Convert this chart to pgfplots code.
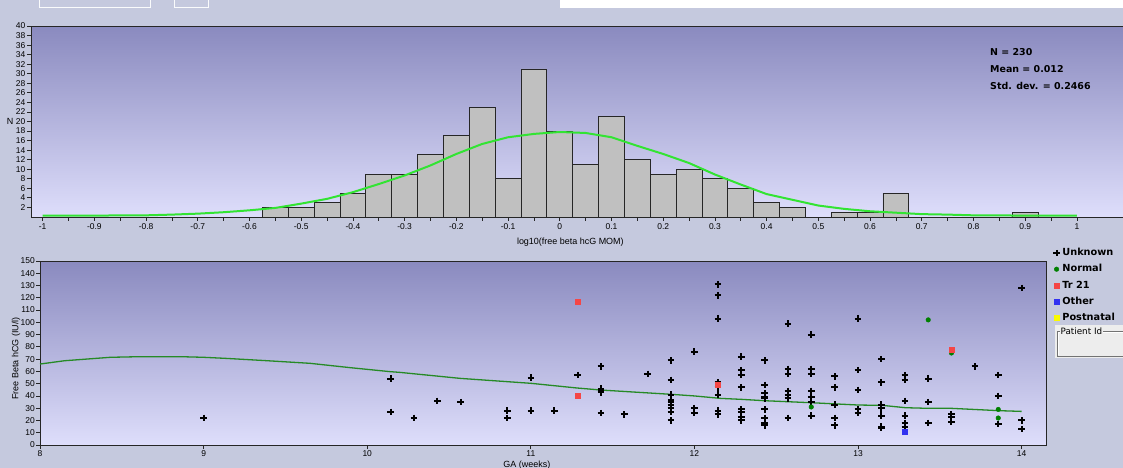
\documentclass[border=0pt]{standalone}
\usepackage{fontspec}
\setmainfont{Liberation Sans}
\newfontfamily\dvs{DejaVu Sans}
\usepackage{pgfplots}
\pgfplotsset{compat=1.18}
\definecolor{panelbg}{RGB}{197,201,222}
\definecolor{plottop}{RGB}{138,138,191}
\definecolor{plotbot}{RGB}{222,222,251}
\definecolor{barfill}{RGB}{192,192,192}
\definecolor{curvegreen}{RGB}{50,228,50}
\definecolor{linegreen}{RGB}{38,138,38}
\definecolor{normalgreen}{RGB}{0,128,0}
\definecolor{trred}{RGB}{245,70,70}
\definecolor{otherblue}{RGB}{50,50,240}
\definecolor{pnyellow}{RGB}{250,250,0}
\begin{document}
\begin{tikzpicture}
\useasboundingbox (0,0) rectangle (1123bp,-468bp);
\fill[panelbg] (0,0) rectangle (1123bp,-468bp);
\begin{scope}[x=1bp,y=-1bp]
\fill[white] (560,0) rectangle (1123,8);
\draw[white!92!panelbg, line width=1bp] (39,-3) rectangle (150,7.5);
\draw[white!92!panelbg, line width=1bp] (174,-3) rectangle (208,7.5);
\end{scope}

% ---------------- histogram ----------------
\begin{axis}[
  at={(31bp,-26bp)}, anchor=north west,
  scale only axis, width=1094bp, height=191bp,
  xmin=-1.0225, xmax=1.093, ymin=0, ymax=40,
  axis background/.style={shade, top color=plottop, bottom color=plotbot},
  axis line style={black!85, line width=0.8bp},
  xtick={-1,-0.9,-0.8,-0.7,-0.6,-0.5,-0.4,-0.3,-0.2,-0.1,0,0.1,0.2,0.3,0.4,0.5,0.6,0.7,0.8,0.9,1},
  xticklabels={-1,-0.9,-0.8,-0.7,-0.6,-0.5,-0.4,-0.3,-0.2,-0.1,0,0.1,0.2,0.3,0.4,0.5,0.6,0.7,0.8,0.9,1},
  minor xtick={-0.95,-0.85,-0.75,-0.65,-0.55,-0.45,-0.35,-0.25,-0.15,-0.05,0.05,0.15,0.25,0.35,0.45,0.55,0.65,0.75,0.85,0.95},
  ytick={2,4,...,40},
  tick align=outside, xtick pos=left, ytick pos=left,
  major tick length=4bp, minor tick length=4bp,
  every tick/.style={black!85, line width=0.8bp},
  every minor tick/.style={black!85, line width=0.8bp},
  ticklabel style={font=\fontsize{8.5}{9}\selectfont, inner sep=1.5bp},
  xticklabel style={yshift=-1bp},
  /pgf/number format/assume math mode=true,
  xlabel={log10(free beta hcG MOM)},
  xlabel style={at={(axis description cs:0.493,-0.133)}, anchor=center, font=\fontsize{9}{10}\selectfont},
  ylabel={N},
  ylabel style={at={(axis description cs:-0.019,0.5)}, anchor=center, rotate=-90, font=\fontsize{9}{10}\selectfont},
]
\addplot[ybar, bar width=0.05, bar shift=0pt, fill=barfill, draw=black!85, line width=0.9bp] coordinates {
(-0.55,2) (-0.50,2) (-0.45,3) (-0.40,5) (-0.35,9) (-0.30,9) (-0.25,13) (-0.20,17)
(-0.15,23) (-0.10,8) (-0.05,31) (0.00,18) (0.05,11) (0.10,21) (0.15,12) (0.20,9)
(0.25,10) (0.30,8) (0.35,6) (0.40,3) (0.45,2) (0.55,1) (0.60,1) (0.65,5) (0.90,1)
};
\addplot[curvegreen, line width=2bp] coordinates {
(-1.00,0.3) (-0.90,0.3) (-0.80,0.35) (-0.75,0.5) (-0.70,0.7) (-0.65,1.0) (-0.60,1.4)
(-0.55,1.9) (-0.50,2.8) (-0.45,3.8) (-0.40,5.2) (-0.35,6.9) (-0.30,8.7) (-0.25,10.8)
(-0.20,13.2) (-0.15,15.3) (-0.10,16.7) (-0.05,17.4) (0.00,17.8) (0.05,17.6) (0.10,16.7)
(0.15,14.9) (0.20,13.2) (0.25,11.3) (0.30,8.9) (0.35,6.8) (0.40,4.8) (0.45,3.6)
(0.50,2.4) (0.55,1.7) (0.60,1.2) (0.65,0.9) (0.70,0.6) (0.75,0.5) (0.80,0.35)
(0.90,0.3) (1.00,0.3)
};
\end{axis}

\begin{scope}[x=1bp,y=-1bp]
\node[anchor=west, font=\dvs\bfseries\fontsize{9.5}{10}\selectfont, inner sep=0pt] at (990,52) {N = 230};
\node[anchor=west, font=\dvs\bfseries\fontsize{9.5}{10}\selectfont, inner sep=0pt] at (990,69) {Mean = 0.012};
\node[anchor=west, font=\dvs\bfseries\fontsize{9.5}{10}\selectfont, inner sep=0pt] at (990,86) {Std. dev. = 0.2466};
\end{scope}

% ---------------- scatter ----------------
\begin{axis}[
  at={(40bp,-261bp)}, anchor=north west,
  scale only axis, width=1006bp, height=184bp,
  xmin=8, xmax=14.149, ymin=0, ymax=150,
  axis background/.style={shade, top color=plottop, bottom color=plotbot},
  axis line style={black!85, line width=0.8bp},
  xtick={8,9,10,11,12,13,14},
  ytick={0,10,...,150},
  tick align=outside, xtick pos=left, ytick pos=left,
  major tick length=3.5bp,
  every tick/.style={black!85, line width=0.8bp},
  ticklabel style={font=\fontsize{8.5}{9}\selectfont, inner sep=1.5bp},
  /pgf/number format/assume math mode=true,
  xlabel={GA (weeks)},
  xlabel style={at={(axis description cs:0.484,-0.107)}, anchor=center, font=\fontsize{9}{10}\selectfont},
  ylabel={Free Beta hCG (IU/l)},
  ylabel style={at={(axis description cs:-0.0239,0.47)}, anchor=center, font=\fontsize{9}{10}\selectfont},
  legend style={at={(axis description cs:1.007,1.078)}, anchor=north west, draw=none, fill=none,
     inner sep=0pt, row sep=3.6bp, font=\dvs\bfseries\fontsize{9.8}{10}\selectfont,
     nodes={inner sep=1.5bp, text height=7.5bp, text depth=2bp},
     /tikz/every odd column/.style={column sep=1bp}},
  legend cell align=left,
  legend image code/.code={\draw[#1] plot coordinates {(0bp,0bp)};},
  clip=false,
]
\addplot[linegreen, line width=1.3bp, forget plot] coordinates {
(8.00,66) (8.15,68.7) (8.43,71.5) (8.61,72) (8.86,72) (9.00,71.5) (9.14,70.6)
(9.39,68.7) (9.65,66.6) (9.90,63) (10.14,59.8) (10.20,59.2) (10.57,54.3) (11.00,50.3)
(11.28,46.5) (11.43,44.8) (11.86,41.3) (12.00,40) (12.16,38) (12.29,37.2) (12.43,36.1)
(12.71,34.5) (13.00,32.6) (13.15,32.3) (13.29,30.4) (13.43,29.9) (13.57,29.9)
(13.86,28) (14.00,27.4)
};
\addplot[only marks, mark=+, mark size=3.3bp, black, line width=2bp] coordinates {
(9.000,22)
(10.143,54) (10.143,27)
(10.286,22)
(10.429,36)
(10.571,35)
(10.857,28) (10.857,22)
(11.000,55) (11.000,28)
(11.143,28)
(11.286,57)
(11.429,64) (11.429,46) (11.429,44) (11.429,43) (11.429,26)
(11.571,25)
(11.714,58)
(11.857,69) (11.857,53) (11.857,41) (11.857,37) (11.857,35) (11.857,33) (11.857,30) (11.857,27) (11.857,20)
(12.000,76) (12.000,30) (12.000,26)
(12.143,131) (12.143,122) (12.143,103) (12.143,51) (12.143,47) (12.143,41) (12.143,28) (12.143,25)
(12.286,72) (12.286,61) (12.286,57) (12.286,47) (12.286,29) (12.286,27) (12.286,23) (12.286,20)
(12.429,69) (12.429,49) (12.429,42) (12.429,39) (12.429,38) (12.429,29) (12.429,22) (12.429,18) (12.429,16)
(12.571,99) (12.571,62) (12.571,58) (12.571,44) (12.571,41) (12.571,38) (12.571,22)
(12.714,90) (12.714,62) (12.714,58) (12.714,44) (12.714,39) (12.714,35) (12.714,24)
(12.857,56) (12.857,47) (12.857,33) (12.857,22) (12.857,16)
(13.000,103) (13.000,61) (13.000,45) (13.000,29) (13.000,26)
(13.143,70) (13.143,51) (13.143,33) (13.143,30) (13.143,24) (13.143,15) (13.143,14)
(13.286,57) (13.286,53) (13.286,36) (13.286,24) (13.286,18) (13.286,15)
(13.429,54) (13.429,35) (13.429,18)
(13.571,25) (13.571,23) (13.571,19)
(13.714,64)
(13.857,57) (13.857,40) (13.857,17)
(14.000,128) (14.000,20) (14.000,13)
};
\addlegendentry{Unknown}
\addplot[only marks, mark=*, mark size=2.3bp, normalgreen] coordinates {
(12.714,31) (13.429,102) (13.571,75) (13.857,29) (13.857,22)
};
\addlegendentry{Normal}
\addplot[only marks, mark=square*, mark size=2.4bp, trred] coordinates {
(11.286,117) (11.286,40) (12.143,49) (13.571,78)
};
\addlegendentry{Tr 21}
\addplot[only marks, mark=square*, mark size=2.4bp, otherblue] coordinates {
(13.286,11)
};
\addlegendentry{Other}
\addlegendimage{only marks, mark=square*, mark size=2.4bp, pnyellow}
\addlegendentry{Postnatal}
\end{axis}

\begin{scope}[x=1bp,y=-1bp]
\fill[black!7] (1055,325) rectangle (1124,358);
\draw[black!55, line width=0.7bp] (1124,331) -- (1057.5,331) -- (1057.5,356) -- (1124,356);
\draw[white, line width=0.6bp] (1124,332) -- (1058.5,332) -- (1058.5,355);
\node[fill=black!7, inner sep=1bp, anchor=west, font=\dvs\fontsize{8.8}{9}\selectfont] at (1059.5,331) {Patient Id};
\end{scope}
\end{tikzpicture}
\end{document}
